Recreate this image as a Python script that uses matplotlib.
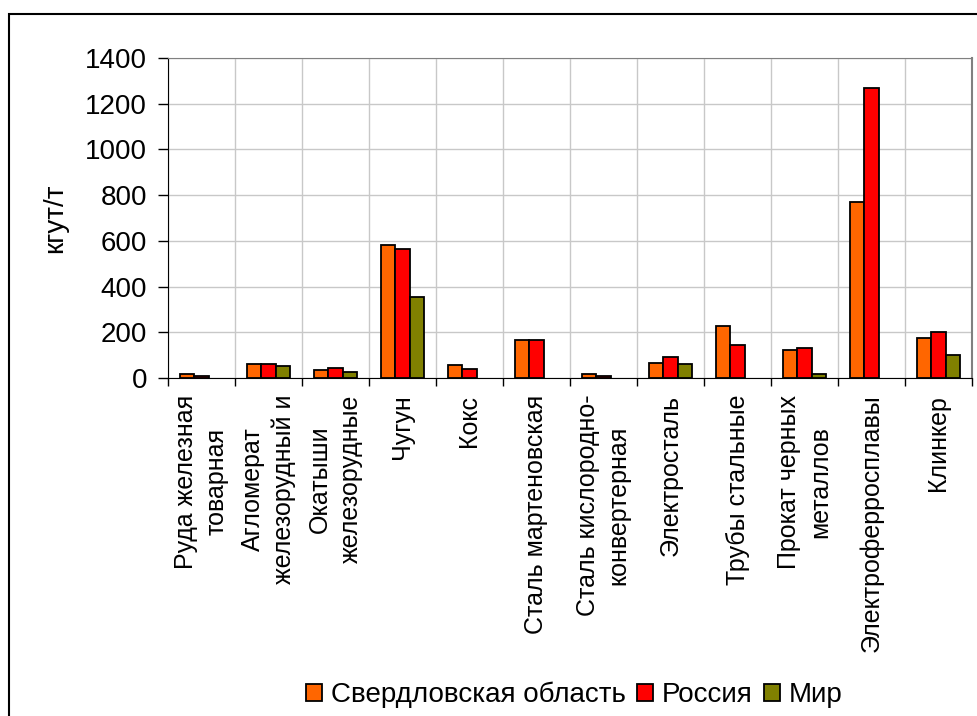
import numpy as np
import matplotlib
matplotlib.use("Agg")
import matplotlib.pyplot as plt
from matplotlib.patches import Rectangle

plt.rcParams['font.family'] = ['Liberation Sans', 'DejaVu Sans']

categories = ["Руда железная\nтоварная", "Агломерат\nжелезорудный и", "Окатыши\nжелезорудные",
              "Чугун", "Кокс", "Сталь мартеновская", "Сталь кислородно-\nконвертерная",
              "Электросталь", "Трубы стальные", "Прокат черных\nметаллов",
              "Электроферросплавы", "Клинкер"]
sverdlovsk = [17, 60, 33, 580, 57, 166, 17, 67, 227, 124, 768, 174]
russia = [8, 60, 42, 565, 41, 165, 8, 92, 143, 133, 1267, 200]
world = [np.nan, 51, 25, 354, np.nan, np.nan, np.nan, 60, np.nan, 17, np.nan, 99]
series_names = ["Свердловская область", "Россия", "Мир"]
colors = ["#FF6600", "#FF0000", "#808000"]

fig = plt.figure(figsize=(9.77, 7.16), dpi=100)
ax = fig.add_axes([168/977, 1-378/716, (972-168)/977, 320/716])

x = np.arange(len(categories))
w = 0.217
for i, vals in enumerate([sverdlovsk, russia, world]):
    ax.bar(x + (i-1)*w, vals, w, color=colors[i], edgecolor="black", linewidth=1.3,
           label=series_names[i], zorder=3)

ax.set_xlim(-0.5, len(categories)-0.5)
ax.set_ylim(0, 1400)
ax.set_yticks(np.arange(0, 1401, 200))
ax.tick_params(axis='y', labelsize=20, length=7, pad=8, width=1)

# labels at centres, ticks at category boundaries
ax.set_xticks(x)
ax.set_xticklabels(categories, rotation=90, va='top', ha='center',
                   multialignment='center', fontsize=18, linespacing=1.35)
ax.tick_params(axis='x', which='major', length=0, pad=12)
ax.set_xticks(np.arange(-0.5, len(categories)), minor=True)
ax.tick_params(axis='x', which='minor', length=6, width=1)

ax.grid(axis='y', color="#c8c8c8", linewidth=1, zorder=0)
ax.grid(axis='x', which='minor', color="#c8c8c8", linewidth=1, zorder=0)
ax.set_axisbelow(True)

ax.spines['left'].set_color("black")
ax.spines['bottom'].set_color("black")
ax.spines['top'].set_color("#808080")
ax.spines['right'].set_color("#808080")
ax.spines['right'].set_linewidth(1.5)

ax.set_ylabel("кгут/т", fontsize=20, labelpad=12)

fig.legend(loc='center', bbox_to_anchor=(574/977, 1-695/716), ncol=3, frameon=False,
           fontsize=20, handlelength=0.6, handleheight=0.6, handletextpad=0.3,
           columnspacing=0.4, borderpad=0)

fig.add_artist(Rectangle((9/977, -0.1), 1.1, (716-14)/716 + 0.1, transform=fig.transFigure,
                         fill=False, edgecolor="black", linewidth=1.5))

plt.savefig("out.png", dpi=100)
